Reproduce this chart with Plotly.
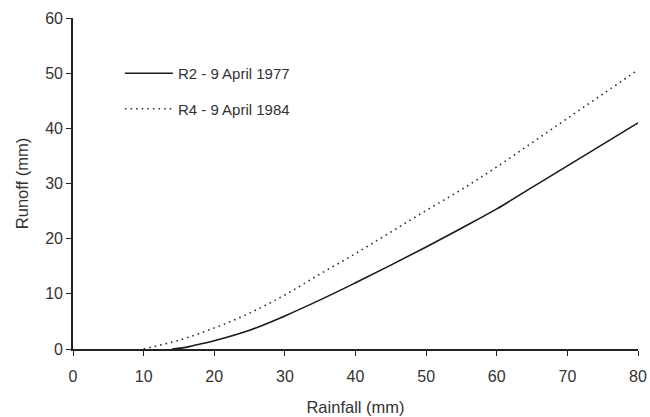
import plotly.graph_objects as go

rain_r2 = [14, 15.5, 17, 20, 25, 30, 35, 40, 45, 50, 55, 60, 65, 70, 75, 80]
runoff_r2 = [0, 0.2, 0.6, 1.5, 3.4, 6.0, 8.9, 12.0, 15.2, 18.5, 21.9, 25.4, 29.3, 33.2, 37.1, 41.0]

rain_r4 = [10, 15, 20, 25, 30, 35, 40, 45, 50, 55, 60, 65, 70, 75, 80]
runoff_r4 = [0, 1.6, 3.8, 6.5, 9.8, 13.6, 17.3, 21.2, 25.1, 28.9, 33.0, 37.4, 41.8, 46.2, 50.6]

x_ticks = [0, 10, 20, 30, 40, 50, 60, 70, 80]
y_ticks = [0, 10, 20, 30, 40, 50, 60]

FONT = "Liberation Sans, Arial, sans-serif"

fig = go.Figure()
fig.add_trace(go.Scatter(x=rain_r2, y=runoff_r2, mode="lines", name="R2 - 9 April 1977",
                         line=dict(color="#1a1a1a", width=1.6, shape="spline"), legendgroup="a"))
fig.add_trace(go.Scatter(x=rain_r4, y=runoff_r4, mode="lines", name="R4 - 9 April 1984",
                         line=dict(color="#333333", width=1.6, dash="1.6px,4px", shape="spline"), legendgroup="b"))

axis_common = dict(showgrid=False, zeroline=False, showline=True, linecolor="#222222", linewidth=1.6,
                   ticks="outside", ticklen=5, tickwidth=1.3, tickcolor="#222222", automargin=False,
                   tickfont=dict(family=FONT, size=16, color="#333333"))

fig.update_layout(
    width=650, height=417,
    margin=dict(l=73, r=12, t=18, b=68),
    paper_bgcolor="white", plot_bgcolor="white",
    font=dict(family=FONT, size=15, color="#333333"),
    xaxis=dict(range=[0, 80], tickvals=x_ticks, ticklabelstandoff=7, ticklabeloverflow="allow",
               title=dict(text="Rainfall (mm)", standoff=17, font=dict(size=16.5)), **axis_common),
    yaxis=dict(range=[0, 60], tickvals=y_ticks,
               title=dict(text="Runoff (mm)", standoff=12, font=dict(size=16.5)), **axis_common),
    legend=dict(x=0.083, y=0.882, xanchor="left", yanchor="top", bgcolor="rgba(0,0,0,0)",
                itemwidth=48, traceorder="grouped", tracegroupgap=13,
                font=dict(size=15, color="#333333")),
    showlegend=True,
)

fig.write_html("out.html", config={"displayModeBar": False},
               post_script="document.body.style.margin='0';document.body.style.overflow='hidden';")
